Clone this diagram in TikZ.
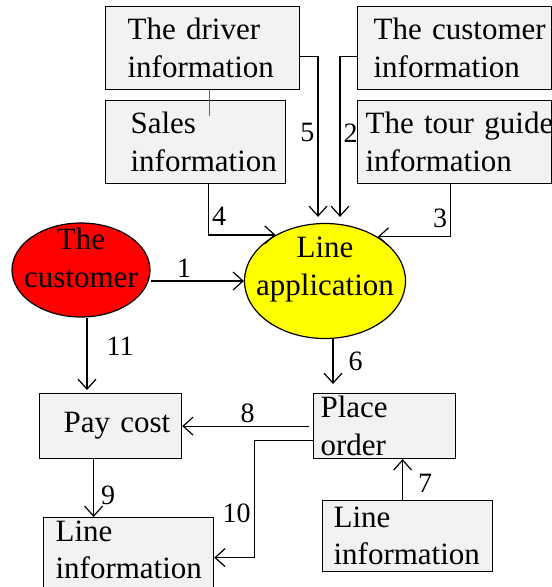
\documentclass[tikz,border=0pt]{standalone}
\usepackage{fontspec}
\setmainfont{Liberation Serif}
\usetikzlibrary{shapes.geometric,arrows.meta}
\hyphenpenalty=10000
\definecolor{boxcol}{HTML}{F2F2F2}
\definecolor{custcol}{HTML}{FF0000}
\definecolor{appcol}{HTML}{FFFF00}
\newcommand\zw[1]{\makebox[0pt]{#1}}
\tikzset{
  >={Straight Barb[length=10pt,width=18pt]},
  infobox/.style={draw, fill=boxcol, rectangle, anchor=north west, align=left,
    inner ysep=2pt, line width=1.2pt, font=\fontsize{31}{37.5}\selectfont},
  blob/.style={draw, ellipse, inner sep=0pt, line width=1.2pt, align=center,
    text depth=0pt, font=\fontsize{31}{37.5}\selectfont},
  flow/.style={->, line width=1.2pt},
  lbl/.style={font=\fontsize{28}{30}\selectfont, inner sep=3pt}
}

\begin{document}
\begin{tikzpicture}[x=1pt,y=-1pt]
  \useasboundingbox (0,0) rectangle (552,587);

  % INFORMATION BOXES
  \node[infobox, minimum height=83pt, inner xsep=22pt, text width=150pt] (drv)  at (105,6)   {The~driver\\information};
  \node[infobox, minimum height=83pt, inner xsep=25pt, text width=130pt] (sal)  at (105,100) {Sales\\information};
  \node[infobox, minimum height=83pt, inner xsep=16pt, text width=162pt] (cus)  at (357,6)   {The~customer\\information};
  \node[infobox, minimum height=83pt, inner xsep=8pt,  text width=178pt] (tour) at (357,100) {The~tour~guide\\information};
  \node[infobox, minimum height=65pt, inner xsep=24pt, text width=94pt]  (pay)   at (39,393)  {Pay~cost};
  \node[infobox, minimum height=65pt, inner xsep=7pt,  text width=128pt] (place) at (313,393) {Place\\order};
  \node[infobox, minimum height=72pt, inner xsep=12pt, text width=146pt, text depth=45.5pt] (lineL) at (43,517) {Line\\information};
  \node[infobox, minimum height=71pt, inner xsep=11pt, text width=148pt] (lineR) at (322,500) {Line\\information};

  % ELLIPSES
  \node[blob, fill=custcol, text height=34pt, minimum width=138pt, minimum height=94pt]  (cust) at (81,270)  {\zw{The}\\\zw{customer}};
  \node[blob, fill=appcol,  text height=28pt, minimum width=161pt, minimum height=115pt] (app)  at (325,281) {\zw{Line}\\\zw{application}};

  \draw[line width=0.6pt, black!60]
    ([xshift=7pt]drv.south) -- ([xshift=7pt,yshift=-16pt]drv.south |- sal.north);

  % FLOWS
  \draw[flow] (app.west -| cust.east) -- node[lbl, above, pos=0.36] {1} (app.west);
  \draw[flow, shorten >=6pt]
    ([yshift=-8pt]cus.west) -| node[lbl, right, pos=0.73] {2} ([xshift=15pt]app.north);
  \draw[flow] ([xshift=-4pt]tour.south) |- node[lbl, left, pos=0.32] {3} (app.40);
  \draw[flow] ([xshift=13pt]sal.south) |- node[lbl, right, pos=0.32] {4} (app.137);
  \draw[flow, shorten >=6pt]
    ([yshift=-8pt]drv.east) -| node[lbl, left, pos=0.73] {5} ([xshift=-7pt]app.north);
  \draw[flow, shorten >=9pt]
    ([xshift=8pt]app.south) -- node[lbl, right=12pt, pos=0.41] {6} ([xshift=8pt]app.south |- place.north);
  \draw[flow] ([xshift=-5pt]lineR.north) -- node[lbl, right=12pt, pos=0.4] {7} ([xshift=-5pt]lineR.north |- place.south);
  \draw[flow, shorten <=4pt] (place.west) -- node[lbl, above] {8} (pay.east);
  \draw[flow] ([xshift=-17pt]pay.south) -- node[lbl, right=4pt, pos=0.63] {9} ([xshift=-17pt]pay.south |- lineL.north);
  \draw[flow]
    ([yshift=-14pt]place.west) -| node[lbl, left, pos=0.81] {10} ([xshift=40pt,yshift=-4pt]lineL.east)
                               -- ([yshift=-4pt]lineL.east);
  \draw[flow, shorten >=3pt]
    ([xshift=6pt]cust.south) -- node[lbl, right=16pt, pos=0.38] {11} ([xshift=6pt]cust.south |- pay.north);

\end{tikzpicture}
\end{document}
